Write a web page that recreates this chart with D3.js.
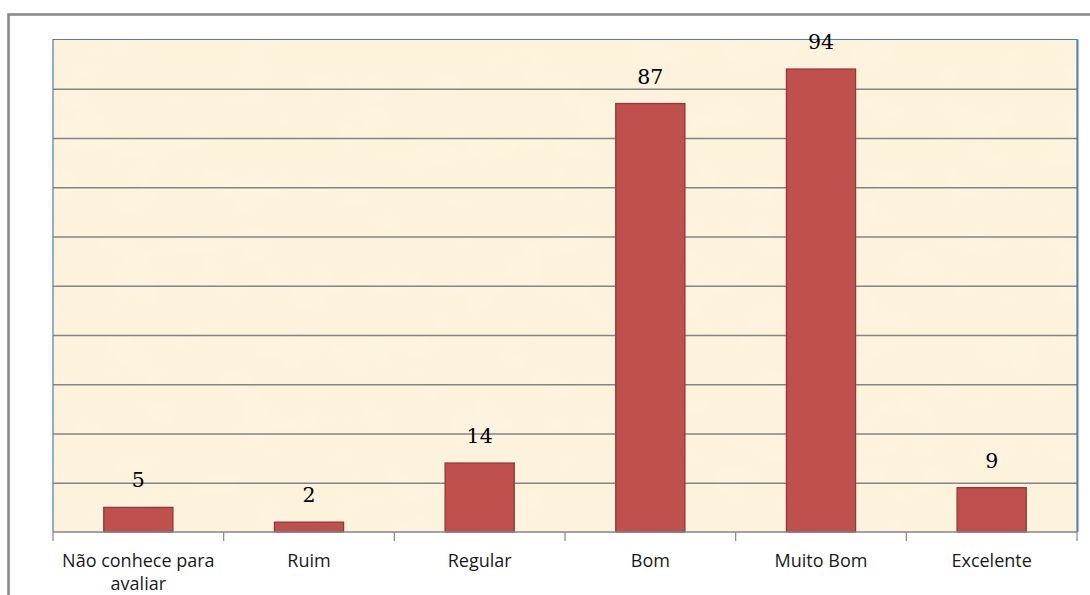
<!DOCTYPE html>
<html>
<head>
<meta charset="utf-8">
<script src="https://cdn.jsdelivr.net/npm/d3@7"></script>
<style>
  html, body { margin: 0; padding: 0; background: #fff; }
  svg { display: block; }
</style>
</head>
<body>
<script>
// Avaliação: número de respostas por categoria
const categories = ["Não conhece para avaliar", "Ruim", "Regular", "Bom", "Muito Bom", "Excelente"];
const values = [5, 2, 14, 87, 94, 9];
const yTicks = [0, 10, 20, 30, 40, 50, 60, 70, 80, 90, 100];

const W = 1090, H = 595;
const plot = { left: 53, top: 39.5, right: 1077, bottom: 532 };

const svg = d3.select("body").append("svg")
  .attr("width", W).attr("height", H);

const defs = svg.append("defs");

// parchment texture for the plot area
const f = defs.append("filter").attr("id", "parch")
  .attr("x", 0).attr("y", 0).attr("width", 1).attr("height", 1);
f.append("feTurbulence").attr("type", "fractalNoise")
  .attr("baseFrequency", "0.018 0.03").attr("numOctaves", 3).attr("seed", 7).attr("result", "n");
f.append("feColorMatrix").attr("in", "n").attr("type", "matrix")
  .attr("values",
    "0 0 0 0 0.985 " +
    "0 0 0 0 0.910 " +
    "0 0 0 0 0.760 " +
    "0 0 0 -1.6 0.95").attr("result", "c");
f.append("feComposite").attr("in", "c").attr("in2", "SourceGraphic").attr("operator", "in");

// outer chart frame (extends past right and bottom edges)
svg.append("rect")
  .attr("x", 8.5).attr("y", 14.5)
  .attr("width", W + 20).attr("height", H + 20)
  .attr("fill", "none").attr("stroke", "#8a8a8a").attr("stroke-width", 2.6);

const x = d3.scaleBand().domain(categories)
  .range([plot.left, plot.right]).paddingInner(0.595).paddingOuter(0.2975);
const band = d3.scaleBand().domain(categories).range([plot.left, plot.right]);
const y = d3.scaleLinear().domain([0, 100]).range([plot.bottom, plot.top]);

// plot background
svg.append("rect")
  .attr("x", plot.left).attr("y", plot.top)
  .attr("width", plot.right - plot.left).attr("height", plot.bottom - plot.top)
  .attr("fill", "#fdf2db");
svg.append("rect")
  .attr("x", plot.left).attr("y", plot.top)
  .attr("width", plot.right - plot.left).attr("height", plot.bottom - plot.top)
  .attr("fill", "#fff").attr("filter", "url(#parch)");

// horizontal gridlines
const grid = svg.append("g")
  .attr("transform", `translate(${plot.left},0)`)
  .call(d3.axisLeft(y).tickValues(yTicks.slice(1, -1))
    .tickSize(-(plot.right - plot.left)).tickFormat(""));
grid.select(".domain").remove();
grid.selectAll("line").attr("stroke", "#858585").attr("stroke-width", 1.3);

// plot-area border (blue: left, top, right)
svg.append("path")
  .attr("d", `M${plot.left},${plot.bottom} V${plot.top} H${plot.right} V${plot.bottom}`)
  .attr("fill", "none").attr("stroke", "#4f7db8").attr("stroke-width", 1.2);
svg.append("line")
  .attr("x1", plot.right + 0.8).attr("x2", plot.right + 0.8)
  .attr("y1", plot.top).attr("y2", plot.bottom)
  .attr("stroke", "#4f7db8").attr("stroke-width", 1.4);

// bars
svg.append("g").selectAll("rect").data(values).join("rect")
  .attr("x", (d, i) => x(categories[i]))
  .attr("width", x.bandwidth())
  .attr("y", d => y(d))
  .attr("height", d => y(0) - y(d))
  .attr("fill", "#c0504d")
  .attr("stroke", "#8e3a37").attr("stroke-width", 1.3);

// value labels
svg.append("g").selectAll("text").data(values).join("text")
  .attr("x", (d, i) => x(categories[i]) + x.bandwidth() / 2)
  .attr("y", d => y(d) - 20)
  .attr("text-anchor", "middle")
  .attr("font-family", "'DejaVu Serif', serif")
  .attr("font-size", 20.5)
  .attr("fill", "#000")
  .text(d => d);

// category axis
const xAxis = svg.append("g")
  .attr("transform", `translate(0,${plot.bottom})`)
  .call(d3.axisBottom(band).tickSize(0).tickFormat(""));
xAxis.select(".domain").attr("stroke", "#868686").attr("stroke-width", 1.4)
  .attr("d", `M${plot.left},0H${plot.right}`);
xAxis.selectAll(".tick").remove();

// tick marks at category boundaries
const bounds = categories.map(c => band(c)).concat([plot.right]);
svg.append("g").selectAll("line").data(bounds).join("line")
  .attr("x1", d => d).attr("x2", d => d)
  .attr("y1", plot.bottom).attr("y2", plot.bottom + 9)
  .attr("stroke", "#868686").attr("stroke-width", 1.2);

// category labels (wrapped to the band width)
const labels = svg.append("g").selectAll("text").data(categories).join("text")
  .attr("x", d => band(d) + band.bandwidth() / 2)
  .attr("y", 567)
  .attr("text-anchor", "middle")
  .attr("font-family", "'Open Sans', sans-serif")
  .attr("font-size", 18)
  .attr("fill", "#1a1a1a");

labels.each(function (d) {
  const t = d3.select(this);
  const cx = +t.attr("x");
  const words = d.split(" ");
  let line = [];
  let ts = t.append("tspan").attr("x", cx).attr("dy", 0);
  words.forEach(w => {
    line.push(w);
    ts.text(line.join(" "));
    if (ts.node().getComputedTextLength() > band.bandwidth() - 6 && line.length > 1) {
      line.pop();
      ts.text(line.join(" "));
      line = [w];
      ts = t.append("tspan").attr("x", cx).attr("dy", 22.7).text(w);
    }
  });
});
</script>
</body>
</html>
